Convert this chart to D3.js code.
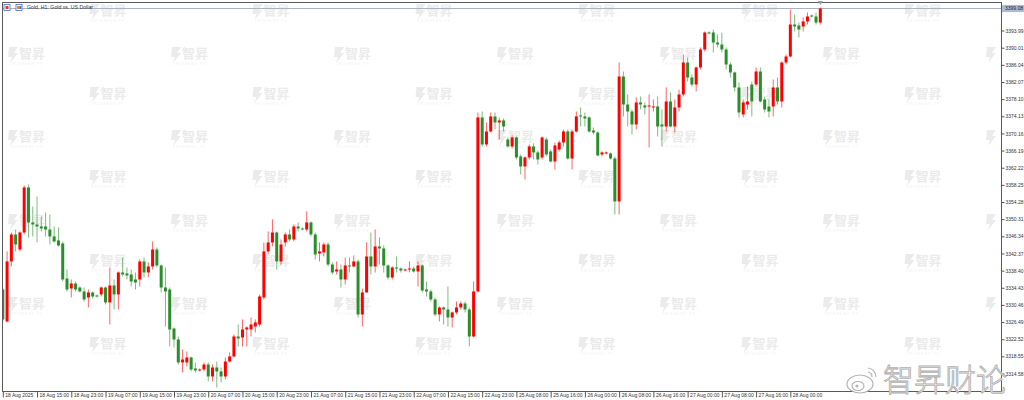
<!DOCTYPE html>
<html><head><meta charset="utf-8">
<script src="https://cdn.jsdelivr.net/npm/d3@7"></script>
<style>html,body{margin:0;padding:0;background:#fff;}svg{display:block;}</style>
</head><body>
<svg id="c" width="1024" height="400"></svg>
<script>
const title = "Gold, H1: Gold vs. US Dollar";
const timeLabels = ["18 Aug 2025","18 Aug 15:00","18 Aug 23:00","19 Aug 07:00","19 Aug 15:00","19 Aug 23:00","20 Aug 07:00","20 Aug 15:00","20 Aug 23:00","21 Aug 07:00","21 Aug 15:00","21 Aug 23:00","22 Aug 07:00","22 Aug 15:00","22 Aug 23:00","25 Aug 08:00","25 Aug 16:00","26 Aug 00:00","26 Aug 08:00","26 Aug 16:00","27 Aug 00:00","27 Aug 08:00","27 Aug 16:00","28 Aug 00:00"];
const priceTicks = [3393.99,3390.01,3386.04,3382.07,3378.10,3374.13,3370.16,3366.19,3362.22,3358.25,3354.28,3350.31,3346.34,3342.37,3338.40,3334.43,3330.46,3326.49,3322.52,3318.55,3314.58];

const opens = [
3334.03,3326.63,3340.52,3346.77,3343.29,3347.23,3357.65,3349.55,3349.08,3348.62,
3348.62,3347.92,3346.31,3345.38,3344.68,3336.58,3334.26,3335.42,3334.49,3333.57,
3332.18,3333.34,3332.65,3332.88,3334.49,3331.03,3334.96,3332.88,3337.97,3337.74,
3337.50,3336.35,3336.35,3340.52,3337.97,3339.36,3343.29,3339.59,3334.49,3334.03,
3325.00,3322.46,3317.13,3317.13,3318.29,3315.74,3315.28,3315.51,3316.66,3313.89,
3315.97,3315.05,3313.89,3317.36,3318.52,3323.15,3322.92,3324.77,3324.77,3325.47,
3325.93,3332.18,3342.84,3344.92,3347.23,3340.52,3344.92,3346.77,3345.61,3348.62,
3348.15,3347.92,3349.55,3346.77,3342.37,3342.61,3344.45,3339.82,3338.20,3338.66,
3336.35,3339.59,3339.36,3340.52,3328.25,3333.34,3341.68,3339.36,3343.99,3343.53,
3339.59,3336.81,3339.13,3338.89,3338.43,3338.66,3338.89,3338.20,3339.59,3334.03,
3333.57,3331.72,3328.25,3329.87,3329.40,3327.55,3328.71,3329.87,3330.79,3329.40,
3323.15,3333.57,3373.86,3367.61,3370.61,3374.09,3372.70,3373.16,3368.76,3367.15,
3369.23,3364.83,3362.51,3364.60,3367.15,3365.76,3364.60,3368.76,3365.99,3363.67,
3366.44,3368.07,3370.61,3364.36,3370.61,3374.32,3374.09,3373.86,3370.84,3370.38,
3365.29,3365.52,3365.52,3364.36,3354.41,3383.34,3376.86,3375.24,3372.24,3377.33,
3376.63,3376.40,3376.17,3376.40,3372.24,3371.77,3377.56,3371.77,3376.17,3379.18,
3386.58,3383.11,3381.49,3385.43,3389.59,3393.53,3393.53,3391.21,3390.75,3389.59,
3386.12,3384.27,3380.80,3374.55,3376.86,3381.49,3381.49,3384.50,3378.02,3376.40,
3376.40,3380.80,3377.56,3386.58,3387.97,3395.38,3395.15,3394.92,3396.08,3397.47,
3397.23,3395.84];
const highs = [
3334.49,3342.84,3347.23,3347.92,3347.46,3358.11,3358.34,3353.25,3355.56,3350.93,
3351.86,3351.40,3348.62,3348.39,3345.15,3338.66,3336.35,3335.89,3334.73,3334.49,
3334.03,3333.57,3332.88,3334.73,3334.73,3339.13,3336.35,3338.20,3341.44,3339.13,
3338.66,3337.97,3340.98,3341.44,3340.29,3345.15,3343.76,3339.82,3339.13,3334.49,
3325.24,3323.15,3320.14,3319.68,3318.52,3317.13,3315.74,3317.13,3317.13,3316.66,
3317.36,3315.97,3318.29,3319.45,3323.61,3325.93,3327.09,3325.47,3327.55,3327.09,
3332.88,3344.92,3347.46,3350.24,3347.46,3345.61,3347.23,3347.92,3349.08,3349.55,
3348.39,3352.09,3349.78,3347.23,3344.92,3344.92,3344.92,3340.29,3340.52,3339.82,
3341.44,3341.44,3341.91,3340.98,3334.26,3344.92,3347.23,3347.92,3346.08,3344.22,
3339.82,3339.36,3341.68,3339.13,3338.89,3340.52,3339.36,3340.52,3339.82,3335.89,
3334.03,3332.18,3330.10,3330.10,3334.73,3328.94,3331.26,3331.26,3331.26,3329.87,
3335.89,3375.01,3375.24,3372.70,3375.01,3375.01,3373.86,3373.62,3369.23,3369.69,
3369.46,3365.29,3364.83,3367.61,3367.84,3366.21,3369.46,3369.23,3366.44,3368.07,
3368.53,3371.07,3371.07,3371.07,3375.24,3376.17,3375.01,3374.09,3371.54,3370.61,
3365.99,3365.99,3365.76,3364.83,3386.58,3384.50,3379.18,3375.70,3378.48,3378.71,
3377.33,3379.18,3378.02,3378.71,3375.70,3380.80,3379.64,3378.02,3380.33,3388.44,
3387.74,3383.81,3385.66,3390.05,3393.76,3393.76,3394.22,3393.07,3393.53,3390.05,
3386.58,3384.50,3381.96,3378.02,3381.03,3382.19,3385.43,3385.43,3378.71,3378.02,
3382.65,3383.11,3386.82,3388.44,3398.85,3397.70,3395.84,3397.00,3398.16,3397.70,
3398.16,3399.32];
const lows = [
3326.63,3326.40,3339.36,3342.84,3342.84,3346.77,3346.08,3346.31,3344.92,3347.46,
3346.31,3344.45,3344.92,3343.99,3335.89,3333.57,3332.18,3333.57,3333.34,3331.26,
3329.87,3331.95,3332.18,3332.41,3330.56,3325.93,3329.40,3329.40,3337.04,3336.35,
3334.73,3334.03,3334.73,3336.81,3336.81,3338.66,3339.13,3333.34,3325.47,3320.84,
3320.61,3316.66,3314.82,3316.20,3315.05,3314.82,3315.05,3315.05,3312.74,3312.74,
3311.35,3312.51,3313.20,3317.13,3318.29,3320.84,3320.84,3320.84,3323.15,3324.08,
3325.47,3331.72,3342.14,3343.99,3338.66,3339.82,3343.99,3345.15,3345.15,3347.46,
3347.69,3347.46,3346.31,3340.98,3340.52,3341.68,3339.36,3337.50,3337.50,3334.49,
3335.19,3337.97,3339.13,3327.55,3325.47,3333.34,3337.50,3337.97,3339.82,3337.97,
3336.35,3336.35,3337.97,3337.97,3338.20,3337.97,3337.97,3334.73,3333.34,3332.41,
3331.26,3327.78,3326.63,3325.93,3325.47,3325.24,3328.25,3329.40,3328.71,3320.84,
3322.92,3333.34,3367.15,3367.15,3370.38,3371.07,3368.76,3370.61,3366.91,3366.68,
3364.13,3360.66,3359.50,3364.13,3364.13,3362.97,3364.13,3364.83,3363.44,3361.81,
3365.99,3367.15,3364.13,3361.81,3370.38,3371.77,3371.77,3370.38,3369.92,3364.83,
3364.83,3365.29,3364.13,3351.40,3351.40,3374.09,3371.77,3369.92,3371.07,3375.70,
3374.55,3366.91,3375.24,3369.46,3367.15,3370.61,3371.54,3370.38,3375.24,3378.71,
3382.19,3381.03,3379.87,3384.96,3389.13,3393.07,3388.90,3390.05,3388.90,3384.96,
3383.11,3379.87,3373.86,3373.86,3375.70,3374.09,3381.03,3377.33,3375.01,3373.86,
3374.09,3376.86,3376.17,3386.12,3387.74,3393.76,3392.37,3393.76,3395.38,3397.00,
3395.38,3395.38];
const closes = [
3327.09,3340.52,3346.77,3344.45,3347.23,3357.65,3349.55,3349.08,3348.62,3348.15,
3347.92,3346.31,3345.15,3344.22,3336.35,3334.03,3335.42,3334.03,3333.57,3331.72,
3333.34,3332.41,3332.41,3334.49,3331.03,3334.96,3332.88,3337.97,3337.50,3337.27,
3335.89,3335.66,3340.52,3337.97,3339.36,3343.29,3339.59,3334.49,3333.57,3324.77,
3322.46,3317.13,3317.83,3318.29,3315.51,3315.28,3315.51,3316.66,3313.89,3315.97,
3315.05,3313.89,3317.36,3318.52,3323.15,3322.69,3324.77,3325.24,3325.93,3326.40,
3332.41,3342.84,3344.92,3347.23,3340.52,3344.45,3346.77,3345.61,3348.62,3348.15,
3347.92,3349.55,3346.77,3342.14,3342.84,3344.45,3339.82,3337.97,3338.66,3336.35,
3339.59,3339.36,3340.52,3328.25,3333.34,3341.68,3339.36,3343.99,3343.53,3339.59,
3336.81,3339.13,3338.89,3338.43,3338.66,3338.89,3338.20,3339.59,3333.80,3333.57,
3331.72,3328.25,3329.87,3329.40,3327.55,3328.71,3329.87,3330.79,3329.40,3323.15,
3333.57,3373.86,3367.61,3370.61,3374.09,3372.70,3373.16,3371.77,3367.15,3369.23,
3364.60,3362.51,3364.60,3367.15,3365.76,3364.13,3369.23,3365.29,3363.67,3367.38,
3368.07,3370.61,3364.36,3370.61,3374.09,3374.09,3373.62,3370.61,3370.38,3365.06,
3365.76,3365.76,3364.36,3354.41,3383.34,3376.86,3375.24,3372.24,3377.33,3376.86,
3376.17,3376.63,3376.40,3371.77,3371.77,3377.56,3371.77,3376.17,3379.18,3386.58,
3383.11,3381.49,3385.43,3389.59,3393.53,3393.30,3391.21,3390.75,3389.59,3386.12,
3384.27,3380.80,3375.01,3377.33,3377.56,3377.56,3384.50,3377.56,3375.70,3375.24,
3380.80,3377.56,3386.58,3387.97,3395.38,3394.92,3394.22,3396.08,3397.23,3397.23,
3395.84,3399.08];

const UP = "#ff0000", DOWN = "#2a8f2a";
const FONT = "'Liberation Sans', Arial, sans-serif";
const CJK = "'Noto Sans CJK SC', sans-serif";
const WM = "#ebebeb";
const plot = {l:2.5, r:1001.5, t:2.5, b:391.5};
const n = Math.min(opens.length, highs.length, lows.length, closes.length);
const data = d3.range(n).map(i => ({i, o:opens[i], h:highs[i], l:lows[i], c:closes[i]}));

const svg = d3.select("#c");
const x = d3.scaleLinear().domain([0, 191]).range([2.8, 820.3]);
const y = d3.scaleLinear().domain([3314.58, 3393.99]).range([373.5, 30.5]);

svg.append("defs").append("clipPath").attr("id","pc").append("rect")
  .attr("x",plot.l).attr("y",plot.t).attr("width",plot.r-plot.l).attr("height",plot.b-plot.t);

// faint tiled watermark
const wm = svg.append("g").attr("clip-path","url(#pc)");
const tiles = [];
for (let k=0;k<13;k++){
  const cx = 27 + 81.5*k;
  const rows = (k%2===0) ? [55,138,222,305] : [12,95,178,262,345];
  rows.forEach(cy => tiles.push({cx, cy, full: cx + 24 < plot.r}));
}
const tg = wm.selectAll("g.tile").data(tiles).join("g").attr("class","tile")
  .attr("transform", d => `translate(${d.cx},${d.cy})`);
tg.append("path").attr("d","M-18,-8 h9 l-4,6 h4 l-8,10 l2,-6 h-4 z").attr("fill",WM);
tg.filter(d=>d.full).append("text").attr("x",-8).attr("y",3).text("智昇")
  .attr("font-family",CJK).attr("font-weight","bold").attr("font-size",13).attr("fill",WM);
tg.filter(d=>d.full).append("text").attr("x",-17).attr("y",10).text("ZHISHENG  FX")
  .attr("font-family",FONT).attr("font-size",3).attr("letter-spacing",1.2).attr("fill","#efefef");

// bid line
const last = data[n-1];
const yb = y(last.c);
svg.append("line").attr("x1",plot.l).attr("x2",plot.r).attr("y1",yb).attr("y2",yb)
  .attr("stroke","#a9b3c3").attr("stroke-width",1);

// candles
const cg = svg.append("g").attr("clip-path","url(#pc)");
const col = d => d.c > d.o ? UP : DOWN;
cg.selectAll("line.w").data(data).join("line").attr("class","w")
  .attr("x1",d=>x(d.i)).attr("x2",d=>x(d.i))
  .attr("y1",d=>y(d.h)).attr("y2",d=>y(d.l))
  .attr("stroke",col).attr("stroke-width",1).attr("stroke-opacity",0.6);
cg.selectAll("rect.b").data(data).join("rect").attr("class","b")
  .attr("x",d=>x(d.i)-1.5).attr("width",3)
  .attr("y",d=>y(Math.max(d.o,d.c)))
  .attr("height",d=>Math.max(1, Math.abs(y(d.o)-y(d.c))))
  .attr("fill",col);

// frame
const fr = svg.append("g").attr("stroke","#5a5a5a").attr("stroke-width",1).attr("fill","none");
fr.append("rect").attr("x",plot.l).attr("y",plot.t).attr("width",plot.r-plot.l).attr("height",plot.b-plot.t);

// right price axis
const yAxis = d3.axisRight(y).tickValues(priceTicks).tickFormat(d3.format(".2f"))
  .tickSize(3).tickPadding(1).tickSizeOuter(0);
const ya = svg.append("g").attr("transform",`translate(${plot.r},0)`).call(yAxis);
ya.select(".domain").remove();
ya.selectAll("line").attr("stroke","#555");
ya.selectAll("text").attr("font-family",FONT).attr("font-size",5).attr("fill","#333");

// bottom time axis
const labelBars = timeLabels.map((_,k)=>k*8);
const xAxis = d3.axisBottom(x).tickValues(labelBars).tickFormat((d,k)=>timeLabels[k])
  .tickSize(6).tickSizeOuter(0);
const xa = svg.append("g").attr("transform",`translate(0,${plot.b})`).call(xAxis);
xa.select(".domain").remove();
xa.selectAll("line").attr("stroke","#555");
xa.selectAll("text").attr("text-anchor","start").attr("x",2).attr("y",5.5).attr("dy",0)
  .attr("font-family",FONT).attr("font-size",5).attr("fill","#333");

// current price label
svg.append("rect").attr("x",plot.r+0.5).attr("y",yb-3.6).attr("width",22).attr("height",7.2).attr("fill","#aebbd0");
svg.append("text").attr("x",plot.r+3.5).attr("y",yb+1.8).text(d3.format(".2f")(last.c))
  .attr("font-family",FONT).attr("font-size",5).attr("fill","#223");

// chart shift marker
svg.append("path").attr("d",`M${x(191)-2.5},1 L${x(191)+2.5},1 L${x(191)},5 Z`).attr("fill","#9a9a9a");

// title + icons
svg.append("rect").attr("x",4).attr("y",4.5).attr("width",6).attr("height",6).attr("fill","#fff").attr("stroke","#3a6fd0").attr("stroke-width",0.8);
svg.append("rect").attr("x",5.5).attr("y",6).attr("width",3).attr("height",3).attr("fill","#e03a2e");
svg.append("rect").attr("x",16).attr("y",4.5).attr("width",6).attr("height",6).attr("fill","#fff").attr("stroke","#3a6fd0").attr("stroke-width",0.8);
svg.append("rect").attr("x",17).attr("y",6).attr("width",2).attr("height",3).attr("fill","#f08a24");
svg.append("rect").attr("x",19.3).attr("y",6).attr("width",2).attr("height",3).attr("fill","#3a6fd0");
svg.append("text").attr("x",27).attr("y",9.3).text(title)
  .attr("font-family",FONT).attr("font-size",5.2).attr("fill","#333");

// weibo watermark
const wb = svg.append("g");
wb.append("ellipse").attr("cx",860).attr("cy",384).attr("rx",13).attr("ry",9).attr("fill","#fff").attr("stroke","#b5b5b5").attr("stroke-width",1.2);
wb.append("ellipse").attr("cx",858).attr("cy",386).attr("rx",6).attr("ry",4.5).attr("fill","none").attr("stroke","#b5b5b5").attr("stroke-width",1.2);
wb.append("circle").attr("cx",857).attr("cy",386).attr("r",1.6).attr("fill","#b5b5b5");
wb.append("path").attr("d","M868,368 a9,9 0 0 1 8,9").attr("fill","none").attr("stroke","#b5b5b5").attr("stroke-width",1.2);
wb.append("path").attr("d","M868,372 a5,5 0 0 1 4,5").attr("fill","none").attr("stroke","#b5b5b5").attr("stroke-width",1.2);
wb.append("text").attr("x",883).attr("y",391).text("智昇财论")
  .attr("font-family",CJK).attr("font-weight",300).attr("font-size",31)
  .attr("fill","#fff").attr("stroke","#b0b0b0").attr("stroke-width",0.9);
</script>
</body></html>
